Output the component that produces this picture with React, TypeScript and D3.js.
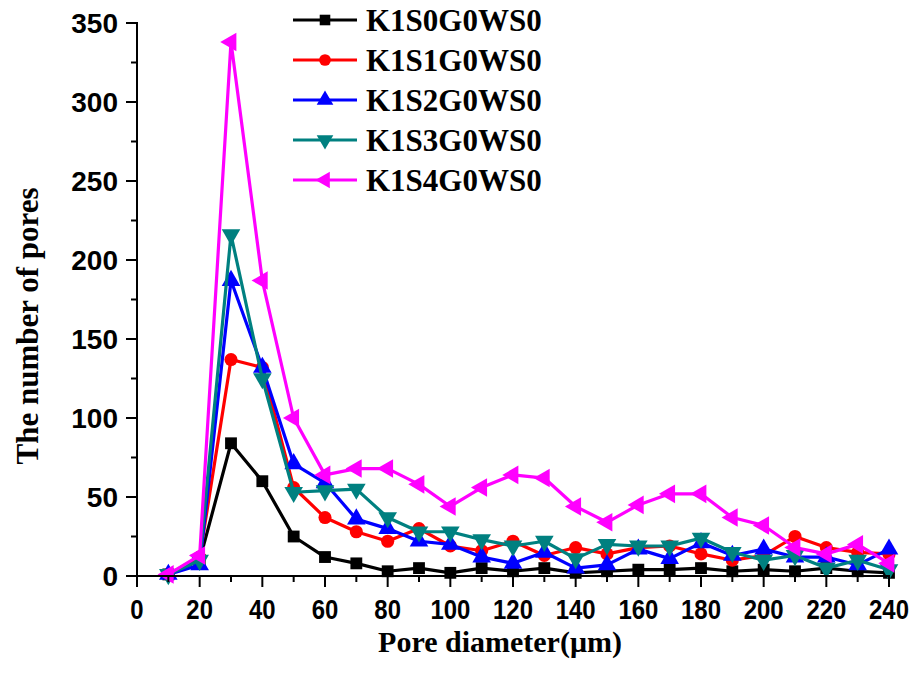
import React from 'react';
import * as d3 from 'd3';

const diameters = [10, 20, 30, 40, 50, 60, 70, 80, 90, 100, 110, 120, 130, 140, 150, 160, 170, 180, 190, 200, 210, 220, 230, 240];

const k1s0 = [1, 10, 84, 60, 25, 12, 8, 3, 5, 2, 5, 3, 5, 2, 3, 4, 4, 5, 3, 4, 3, 5, 3, 2];
const k1s1 = [1, 12, 137, 132, 56, 37, 28, 22, 30, 19, 16, 22, 13, 18, 14, 18, 19, 14, 10, 13, 25, 18, 15, 14];
const k1s2 = [1, 7, 187, 132, 71, 59, 36, 30, 22, 20, 12, 8, 15, 5, 7, 17, 11, 21, 13, 17, 12, 12, 7, 17];
const k1s3 = [1, 10, 216, 125, 53, 54, 55, 37, 28, 28, 23, 19, 22, 11, 20, 19, 19, 24, 15, 10, 13, 5, 10, 4];
const k1s4 = [1, 13, 338, 187, 100, 64, 68, 68, 58, 44, 56, 64, 62, 44, 34, 45, 52, 52, 37, 32, 18, 14, 20, 8];

const seriesNames = ['K1S0G0WS0', 'K1S1G0WS0', 'K1S2G0WS0', 'K1S3G0WS0', 'K1S4G0WS0'];
const seriesValues = [k1s0, k1s1, k1s2, k1s3, k1s4];
const seriesColors = ['#000000', '#ff0000', '#0000ff', '#008080', '#ff00ff'];

const xTicks = [0, 20, 40, 60, 80, 100, 120, 140, 160, 180, 200, 220, 240];
const yTicks = [0, 50, 100, 150, 200, 250, 300, 350];

// marker per series: symbol type + rotation
const markers = [
  { type: d3.symbolSquare, size: 140, rot: 0 },
  { type: d3.symbolCircle, size: 135, rot: 0 },
  { type: d3.symbolTriangle, size: 150, rot: 0 },
  { type: d3.symbolTriangle, size: 150, rot: 180 },
  { type: d3.symbolTriangle, size: 150, rot: -90 },
];

const left = 137, right = 889, top = 23, bottom = 576;

export default function App() {
  const x = d3.scaleLinear().domain([0, 240]).range([left, right]);
  const y = d3.scaleLinear().domain([0, 350]).range([bottom, top]);

  const line = d3.line<number>()
    .x((_, i) => x(diameters[i]))
    .y(d => y(d));

  const xMinor = d3.range(10, 240, 20);
  const yMinor = d3.range(25, 350, 50);

  return (
    <svg width={919} height={673} style={{ position: 'absolute', left: 0, top: 0, background: '#fff' }}>
      <rect width={919} height={673} fill="#fff" />

      {/* series */}
      {seriesValues.map((vals, s) => {
        const m = markers[s];
        const sym = d3.symbol().type(m.type).size(m.size)();
        return (
          <g key={s}>
            <path d={line(vals) || ''} fill="none" stroke={seriesColors[s]} strokeWidth={3.2} strokeLinejoin="round" />
            {vals.map((v, i) => (
              <path key={i} d={sym || ''} fill={seriesColors[s]}
                transform={`translate(${x(diameters[i])},${y(v)}) rotate(${m.rot})`} />
            ))}
          </g>
        );
      })}

      {/* axes */}
      <g stroke="#000" strokeWidth={2}>
        <line x1={left} x2={left} y1={top - 1} y2={bottom + 1} />
        <line x1={left - 1} x2={right + 1} y1={bottom} y2={bottom} />
        {yTicks.map(t => <line key={'y' + t} x1={left - 11} x2={left} y1={y(t)} y2={y(t)} />)}
        {yMinor.map(t => <line key={'ym' + t} x1={left - 6} x2={left} y1={y(t)} y2={y(t)} />)}
        {xTicks.map(t => <line key={'x' + t} x1={x(t)} x2={x(t)} y1={bottom} y2={bottom + 11} />)}
        {xMinor.map(t => <line key={'xm' + t} x1={x(t)} x2={x(t)} y1={bottom} y2={bottom + 6} />)}
      </g>

      <g fontFamily="'Liberation Sans', Arial, sans-serif" fontWeight="bold" fill="#000">
        {yTicks.map(t => (
          <text key={'yl' + t} x={left - 19} y={y(t)} dy="0.35em" textAnchor="end" fontSize={28}>{t}</text>
        ))}
        {xTicks.map(t => {
          const s = String(t);
          return (
            <text key={'xl' + t} x={x(t)} y={619} textAnchor="middle" fontSize={28}
              textLength={s.length * 13.3} lengthAdjust="spacingAndGlyphs">{s}</text>
          );
        })}
      </g>

      <g fontFamily="'Liberation Serif', 'Times New Roman', serif" fontWeight="bold" fill="#000">
        <text x={(left + right) / 2 - 13} y={652} textAnchor="middle" fontSize={30}>Pore diameter(μm)</text>
        <text transform={`translate(38,326) rotate(-90)`} textAnchor="middle" fontSize={31}>The number of pores</text>
      </g>

      {/* legend */}
      <g>
        {seriesNames.map((name, s) => {
          const ly = 20 + s * 40;
          const m = markers[s];
          const sym = d3.symbol().type(m.type).size(m.size * 0.8)();
          return (
            <g key={name}>
              <line x1={293} x2={357} y1={ly} y2={ly} stroke={seriesColors[s]} strokeWidth={3} />
              <path d={sym || ''} fill={seriesColors[s]} transform={`translate(325,${ly}) rotate(${m.rot})`} />
              <text x={366} y={ly + 11} fontFamily="'Liberation Serif', 'Times New Roman', serif"
                fontWeight="bold" fontSize={31} fill="#000">{name}</text>
            </g>
          );
        })}
      </g>
    </svg>
  );
}
